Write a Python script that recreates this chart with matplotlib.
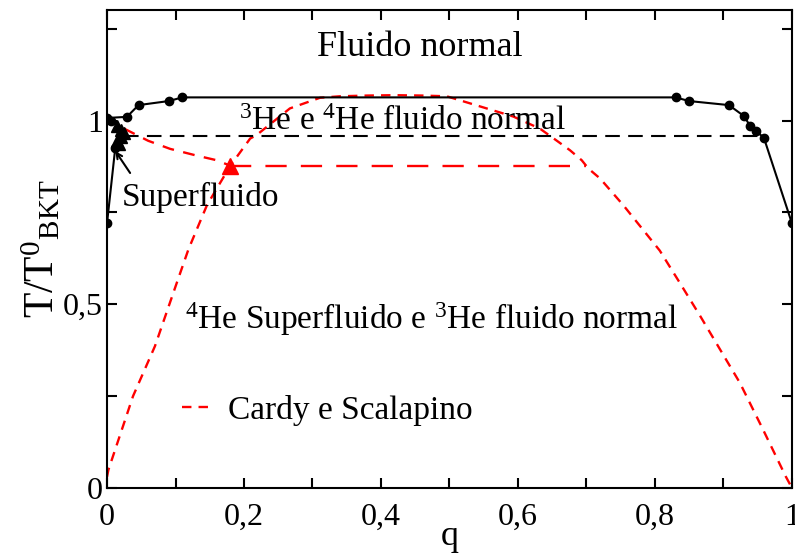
import matplotlib
matplotlib.use("Agg")
import matplotlib.pyplot as plt
from matplotlib.ticker import MultipleLocator, FuncFormatter

plt.rcParams['font.family'] = ['Liberation Serif', 'DejaVu Serif']
plt.rcParams['mathtext.fontset'] = 'custom'
plt.rcParams['mathtext.rm'] = 'Liberation Serif'
plt.rcParams['mathtext.it'] = 'Liberation Serif:italic'
plt.rcParams['mathtext.bf'] = 'Liberation Serif:bold'

# Cardy e Scalapino dome
dome_q = [0.0, 0.002, 0.038, 0.07, 0.102, 0.119, 0.146, 0.18, 0.209, 0.218, 0.267, 0.311,
          0.34, 0.38, 0.42, 0.46, 0.496, 0.593, 0.632, 0.656, 0.676, 0.693, 0.703, 0.72, 0.754,
          0.807, 0.836, 0.866, 0.895, 0.924, 0.958, 0.991, 1.0]
dome_T = [0.03, 0.049, 0.25, 0.386, 0.559, 0.65, 0.77, 0.877, 0.951, 0.96, 1.033, 1.062,
          1.066, 1.068, 1.069, 1.068, 1.066, 1.011, 0.978, 0.946, 0.919, 0.892, 0.869, 0.842, 0.769,
          0.646, 0.559, 0.468, 0.377, 0.286, 0.158, 0.031, 0.0]

# red dashed line (superfluid 4He boundary)
red_q = [0.025, 0.06, 0.092, 0.13, 0.16, 0.18]
red_T = [0.978, 0.945, 0.923, 0.905, 0.892, 0.877]
redh_q = [0.18, 0.70]
redh_T = [0.877, 0.877]
tri_q = [0.18]
tri_T = [0.877]

# black boundary (normal fluid)
bq = [0.0, 0.029, 0.046, 0.09, 0.11, 0.83, 0.85, 0.908, 0.93, 0.939, 0.948, 0.959, 1.0]
bT = [1.007, 1.01, 1.042, 1.053, 1.063, 1.063, 1.053, 1.042, 1.012, 0.985, 0.971, 0.953, 0.72]

# left superfluid line
sq = [0.0, 0.012, 0.018, 0.024, 0.02, 0.014, 0.006]
sT = [0.72, 0.925, 0.945, 0.965, 0.98, 0.99, 1.0]
btri_q = [0.015, 0.02, 0.025, 0.02, 0.014, 0.018]
btri_T = [0.985, 0.975, 0.965, 0.955, 0.945, 0.935]

# black dashed line
dq = [0.025, 0.95]
dT = [0.958, 0.958]

fig = plt.figure(figsize=(7.95, 5.6), dpi=100)
ax = fig.add_axes([0.1346, 0.1286, 0.8616, 0.853])

dome, = ax.plot(dome_q, dome_T, color='red', lw=1.7, dashes=(4, 3), label='Cardy e Scalapino')
ax.plot(red_q, red_T, color='red', lw=1.7, dashes=(5, 4))
ax.plot(redh_q, redh_T, color='red', lw=1.7, dashes=(9, 6))
ax.plot(tri_q, tri_T, '^', color='red', ms=11)

ax.plot(bq, bT, '-o', color='black', lw=1.5, ms=6)
ax.plot(sq, sT, '-', color='black', lw=1.5)
ax.plot([sq[0], sq[1], sq[-1]], [sT[0], sT[1], sT[-1]], 'o', color='black', ms=6)
ax.plot(btri_q, btri_T, '^', color='black', ms=8)
ax.plot(dq, dT, color='black', lw=1.5, dashes=(7, 4))

ax.set_xlim(0, 1)
ax.set_ylim(0, 1.3)
ax.xaxis.set_major_locator(MultipleLocator(0.2))
ax.xaxis.set_minor_locator(MultipleLocator(0.1))
ax.yaxis.set_major_locator(MultipleLocator(0.5))
ax.yaxis.set_minor_locator(MultipleLocator(0.25))

def fmt(v, pos):
    s = ('%g' % round(v, 3)).replace('.', ',')
    return s

ax.xaxis.set_major_formatter(FuncFormatter(fmt))
ax.yaxis.set_major_formatter(FuncFormatter(fmt))
ax.tick_params(which='both', direction='in', top=True, right=True, width=1.5,
               labelsize=23)
ax.tick_params(axis='x', which='both', pad=11)
ax.tick_params(axis='y', which='both', pad=3)
ax.tick_params(which='major', length=7)
ax.tick_params(which='minor', length=7)
for s in ax.spines.values():
    s.set_linewidth(1.5)

ax.set_xlabel('q', fontsize=26, labelpad=-9)
ax.set_ylabel(r'$\mathrm{T/T^{0}{}_{BKT}}$', fontsize=30, labelpad=0)

fs = 24
ax.text(0.457, 1.175, 'Fluido normal', fontsize=26, ha='center', va='baseline')
ax.text(0.431, 0.975, r'$^{3}$He e $^{4}$He fluido normal', fontsize=fs, ha='center', va='baseline')
ax.text(0.022, 0.768, 'Superfluido', fontsize=fs, ha='left', va='baseline')
ax.text(0.114, 0.432, r'$^{4}$He Superfluido e $^{3}$He fluido normal', fontsize=fs, ha='left', va='baseline')

ax.annotate('', xy=(0.01, 0.923), xytext=(0.036, 0.851),
            arrowprops=dict(arrowstyle='->', color='black', lw=1.5))

ax.legend(handles=[dome], loc='center left', bbox_to_anchor=(0.109, 0.163),
          frameon=False, fontsize=fs, handlelength=0.95, handletextpad=0.45,
          borderpad=0, borderaxespad=0)

fig.savefig('out.png', dpi=100)
